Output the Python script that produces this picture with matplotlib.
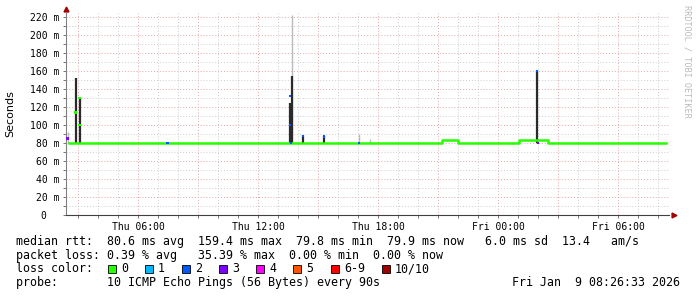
import matplotlib
matplotlib.use("Agg")
import matplotlib.pyplot as plt
from matplotlib.patches import Rectangle
from matplotlib.ticker import MultipleLocator, FixedLocator

# hours since Thu 00:00
x_start, x_end = 2.4, 32.55

# median rtt (ms), step series, no loss
median_t = [2.55, 21.2, 22.0, 25.05, 26.5, 32.4]
median_v = [79.8, 83.2, 79.8, 83.2, 79.8, 79.8]

# dark smoke spikes (ms)
smoke_t = [2.875, 3.075, 13.575, 13.675, 14.25, 15.3, 25.95]
smoke_hi = [152, 130, 125, 155, 89, 88, 161]

# light grey smoke
light_t = [2.475, 13.7, 17.05, 17.6]
light_hi = [92, 222, 90, 84.5]

# median samples coloured by loss
loss_t = [2.475, 2.875, 3.075, 3.075, 7.475, 13.6, 13.6, 13.65, 14.25, 15.3, 17.05, 25.95, 26.0]
loss_v = [85, 114, 130, 100, 79.8, 132, 100, 80, 88, 87, 79.8, 160, 80]
loss_k = [3, 0, 0, 0, 2, 2, 2, 2, 2, 2, 2, 2, 3]

loss_labels = ["0", "1", "2", "3", "4", "5", "6-9", "10/10"]
loss_colors = ["#26ff00", "#00b8ff", "#0059ff", "#7e00ff", "#ff00ff", "#ff5500", "#ff0000", "#a10000"]

x_ticks = [6, 12, 18, 24, 30]
x_labels = ["Thu 06:00", "Thu 12:00", "Thu 18:00", "Fri 00:00", "Fri 06:00"]
y_ticks = list(range(0, 221, 20))
y_labels = ["0  "] + [f"{v} m" for v in y_ticks[1:]]

mono = "DejaVu Sans Mono"
W, H = 697, 297

fig = plt.figure(figsize=(6.97, 2.97), dpi=100)
ax = fig.add_axes([66 / W, 1 - 215 / H, (669 - 66) / W, 202.5 / H])
ax.set_xlim(x_start, x_end)
ax.set_ylim(0, 225)

# grid
for h in range(3, 33):
    c = "#e0a8a8" if h % 3 == 0 else "#cccccc"
    ax.axvline(h, color=c, lw=0.7, ls=(0, (1, 2)), zorder=0)
for v in range(10, 221, 10):
    c = "#e0a8a8" if v % 20 == 0 else "#cccccc"
    ax.axhline(v, color=c, lw=0.7, ls=(0, (1, 2)), zorder=0)

ax.vlines(light_t, 79.8, light_hi, color="#bbbbbb", lw=1.0, zorder=2)
ax.vlines(smoke_t, 79.8, smoke_hi, color="#2a2a2a", lw=1.6, zorder=3)
ax.step(median_t, median_v, where="post", color=loss_colors[0], lw=1.8, zorder=4)
ax.scatter(loss_t, loss_v, c=[loss_colors[k] for k in loss_k], marker="s", s=3, lw=0, zorder=5)

for s in ["top", "right"]:
    ax.spines[s].set_visible(False)
ax.spines["left"].set_color("#808080")
ax.spines["bottom"].set_color("#404040")
ax.plot([0], [1.015], marker="^", color="#a00000", ms=3.5, transform=ax.transAxes, clip_on=False)
ax.plot([1.008], [0], marker=">", color="#a00000", ms=3.5, transform=ax.transAxes, clip_on=False)

ax.xaxis.set_major_locator(FixedLocator(x_ticks))
ax.set_xticklabels(x_labels, family=mono, fontsize=7)
ax.xaxis.set_minor_locator(MultipleLocator(1))
ax.yaxis.set_major_locator(FixedLocator(y_ticks))
ax.set_yticklabels(y_labels, family=mono, fontsize=7)
ax.yaxis.set_minor_locator(MultipleLocator(10))
ax.tick_params(which="both", length=2, width=0.6, color="#606060", pad=3)

fig.text(10 / W, 1 - 114 / H, "Seconds", rotation=90, ha="center", va="center",
         fontsize=8, family="DejaVu Sans")
fig.text(687 / W, 1 - 5 / H, "RRDTOOL / TOBI OETIKER", rotation=270, ha="center", va="top",
         fontsize=6.1, family=mono, color="#bbbbbb")

fs = 8.4
def line(y, s, x=16):
    fig.text(x / W, 1 - y / H, s, family=mono, fontsize=fs, va="center", ha="left")

line(241.5, "median rtt:  80.6 ms avg  159.4 ms max  79.8 ms min  79.9 ms now   6.0 ms sd  13.4   am/s")
line(255, "packet loss: 0.39 % avg   35.39 % max  0.00 % min  0.00 % now")
line(268.5, "loss color:")
line(282.5, "probe:       10 ICMP Echo Pings (56 Bytes) every 90s")
fig.text(680 / W, 1 - 282.5 / H, "Fri Jan  9 08:26:33 2026", family=mono, fontsize=fs,
         va="center", ha="right")

sq_x = [108, 145, 182, 219, 256, 293, 331, 382]
for x, lab, col in zip(sq_x, loss_labels, loss_colors):
    fig.patches.append(Rectangle((x / W, 1 - 272.5 / H), 8 / W, 8 / H, transform=fig.transFigure,
                                 facecolor=col, edgecolor="black", lw=0.6))
    line(268.5, lab, x + 13)

fig.savefig("out.png", dpi=100)
